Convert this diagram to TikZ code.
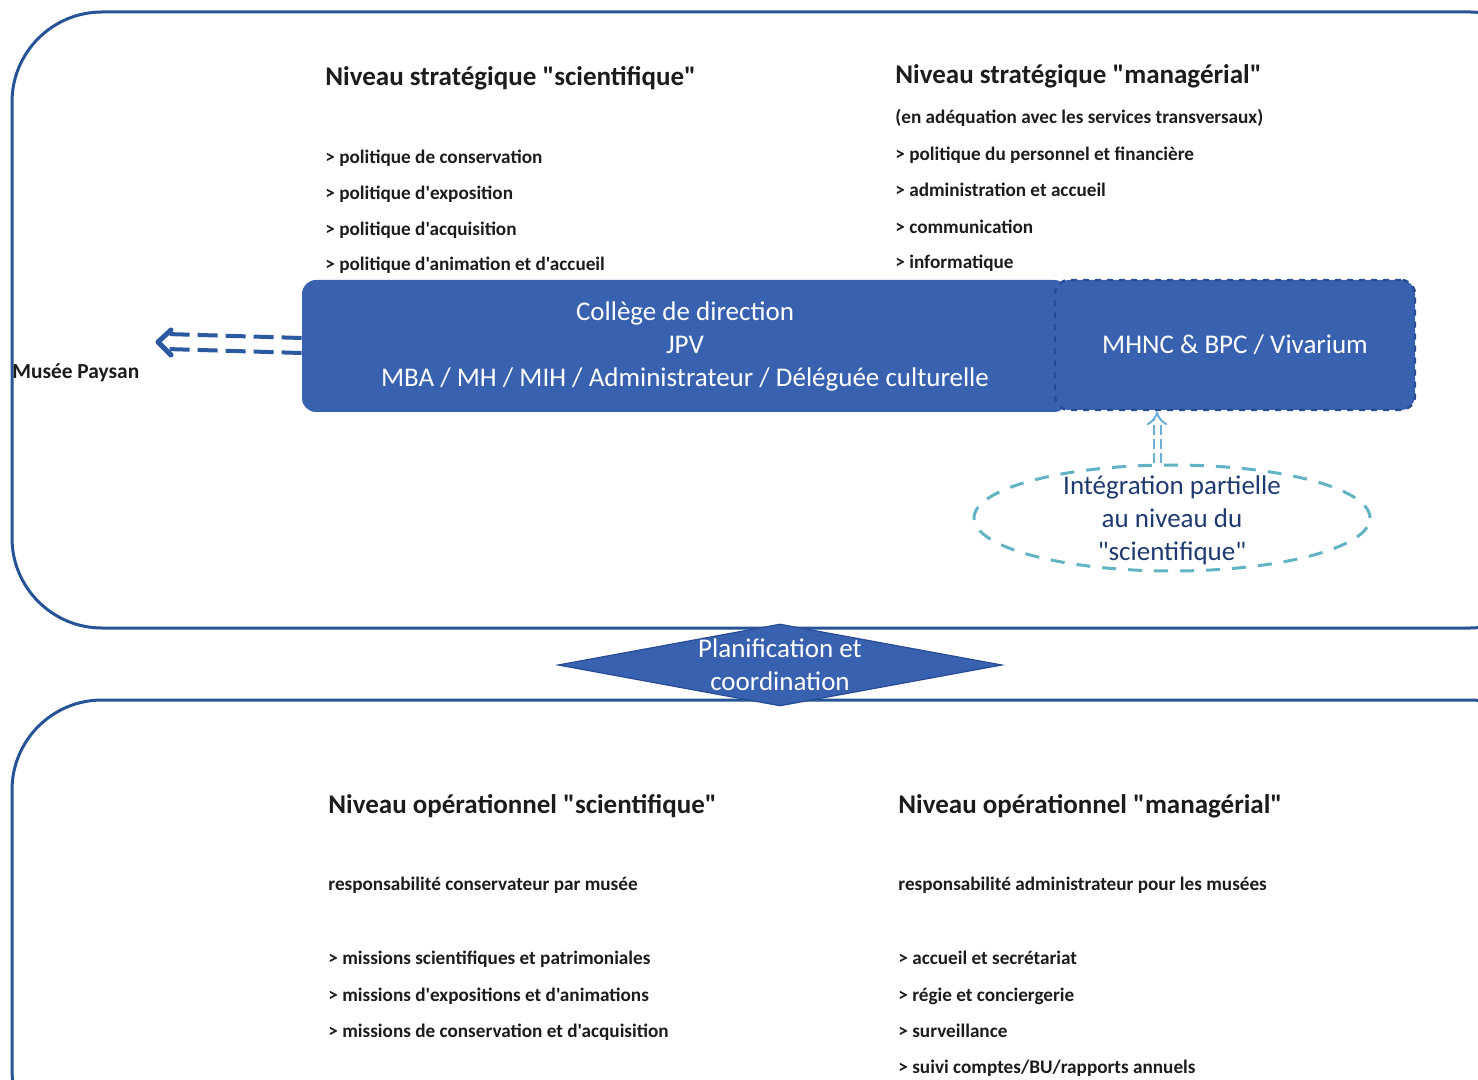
\documentclass[tikz,border=0pt]{standalone}
\usepackage{fontspec}
\setmainfont{Carlito}[Ligatures=TeXOff]
\usetikzlibrary{calc,shapes.geometric,arrows.meta}

\definecolor{frameblue}{RGB}{38,84,150}
\definecolor{boxblue}{RGB}{56,97,176}
\definecolor{dashblue}{RGB}{40,76,148}
\definecolor{arrowblue}{RGB}{44,90,160}
\definecolor{lightarrow}{RGB}{110,175,215}
\definecolor{tealdash}{RGB}{98,180,196}
\definecolor{navytext}{RGB}{30,58,112}
\definecolor{inktext}{RGB}{28,28,28}

\tikzset{
  level/.style={draw=frameblue,line width=1.5pt,rounded corners=45pt,minimum width=774pt},
  head/.style={anchor=west,inner sep=0pt,font=\bfseries\fontsize{13.5}{15}\selectfont,text=inktext},
  item/.style={anchor=west,inner sep=0pt,font=\bfseries\fontsize{9.6}{11}\selectfont,text=inktext,text height=1.6ex,text depth=.3ex},
  bluebox/.style={fill=boxblue,text=white,font=\fontsize{13.5}{16.5}\selectfont,align=center,rounded corners=7pt},
  linktext/.style={font=\fontsize{13.5}{16.5}\selectfont,align=center},
  dashlink/.style={arrowblue,line width=2pt,dash pattern=on 10pt off 4pt},
}

\begin{document}
\begin{tikzpicture}[x=0.5pt,y=-0.5pt]
\useasboundingbox (0,0) rectangle (1478,1080);
\fill[white] (0,0) rectangle (1478,1080);

% the two levels
\draw node [level,minimum height=308pt] (strat) at (786,320) {};
\draw node [level,minimum height=230pt] (oper) at (786,930) {};

% strategic level, scientific side
\draw node [head] (sshead) at (325,78) {Niveau stratégique "scientifique"};
\draw node [item] (ss1) at ($(sshead.west)+(0,79)$) {> politique de conservation};
\draw node [item] (ss2) at ($(sshead.west)+(0,115)$) {> politique d'exposition};
\draw node [item] (ss3) at ($(sshead.west)+(0,151)$) {> politique d'acquisition};
\draw node [item] (ss4) at ($(sshead.west)+(0,186)$) {> politique d'animation et d'accueil};

% strategic level, managerial side
\draw node [head] (smhead) at (895,76) {Niveau stratégique "managérial"};
\draw node [item] (sm0) at ($(smhead.west)+(0,41)$) {(en adéquation avec les services transversaux)};
\draw node [item] (sm1) at ($(smhead.west)+(0,78)$) {> politique du personnel et financière};
\draw node [item] (sm2) at ($(smhead.west)+(0,114)$) {> administration et accueil};
\draw node [item] (sm3) at ($(smhead.west)+(0,151)$) {> communication};
\draw node [item] (sm4) at ($(smhead.west)+(0,186)$) {> informatique};

% management board
\draw node [bluebox,minimum width=383pt,minimum height=66pt] (college) at (685,346)
  {Collège de direction\\JPV\\MBA / MH / MIH / Administrateur / Déléguée culturelle};
\draw node [bluebox,draw=dashblue,dashed,line width=1.2pt,minimum width=180pt,minimum height=65pt] (mhnc) at (1235,345)
  {MHNC \& BPC / Vivarium};

% towards the Musee Paysan
\coordinate (paysanend) at (158,342);
\draw[dashlink] ($(college.west)+(0,-8)$) -- ($(paysanend)+(8,-8)$);
\draw[dashlink] ($(college.west)+(0,7)$) -- ($(paysanend)+(8,7)$);
\draw[arrowblue,line width=2.5pt,line join=round,line cap=round] ($(paysanend)+(13,-12)$) -- (paysanend) -- ($(paysanend)+(13,13)$);
\draw node [anchor=west,inner sep=0pt,font=\bfseries\fontsize{10.7}{12}\selectfont,text=inktext] (paysan) at (12,373) {Musée Paysan};

\draw node [ellipse,draw=tealdash,dash pattern=on 7pt off 6pt,line width=1.5pt,minimum width=198pt,minimum height=53pt] (integ) at (1172,518) {};
\draw node [linktext,text=navytext] (integtxt) at ($(integ)+(0,2)$) {Intégration partielle\\au niveau du\\"scientifique"};
\draw[lightarrow,line width=1pt,double,double distance=2.5pt,dash pattern=on 5pt off 2pt,-{Implies}] ($(integ.north)+(-15,0)$) -- ($(mhnc.south)+(-78,0)$);

% link between the levels
\draw node [diamond,fill=boxblue,draw=dashblue,line width=0.6pt,inner sep=0pt,minimum width=222pt,minimum height=41pt] (plan) at (780,665) {};
\draw node [linktext,text=white] (plantxt) at (plan) {Planification et\\coordination};

% operational level, scientific side
\draw node [head] (oshead) at (328,806) {Niveau opérationnel "scientifique"};
\draw node [item] (os0) at ($(oshead.west)+(0,78)$) {responsabilité conservateur par musée};
\draw node [item] (os1) at ($(oshead.west)+(0,152)$) {> missions scientifiques et patrimoniales};
\draw node [item] (os2) at ($(oshead.west)+(0,189)$) {> missions d'expositions et d'animations};
\draw node [item] (os3) at ($(oshead.west)+(0,225)$) {> missions de conservation et d'acquisition};

% operational level, managerial side
\draw node [head] (omhead) at (898,806) {Niveau opérationnel "managérial"};
\draw node [item] (om0) at ($(omhead.west)+(0,78)$) {responsabilité administrateur pour les musées};
\draw node [item] (om1) at ($(omhead.west)+(0,152)$) {> accueil et secrétariat};
\draw node [item] (om2) at ($(omhead.west)+(0,189)$) {> régie et conciergerie};
\draw node [item] (om3) at ($(omhead.west)+(0,225)$) {> surveillance};
\draw node [item] (om4) at ($(omhead.west)+(0,261)$) {> suivi comptes/BU/rapports annuels};

\end{tikzpicture}
\end{document}
